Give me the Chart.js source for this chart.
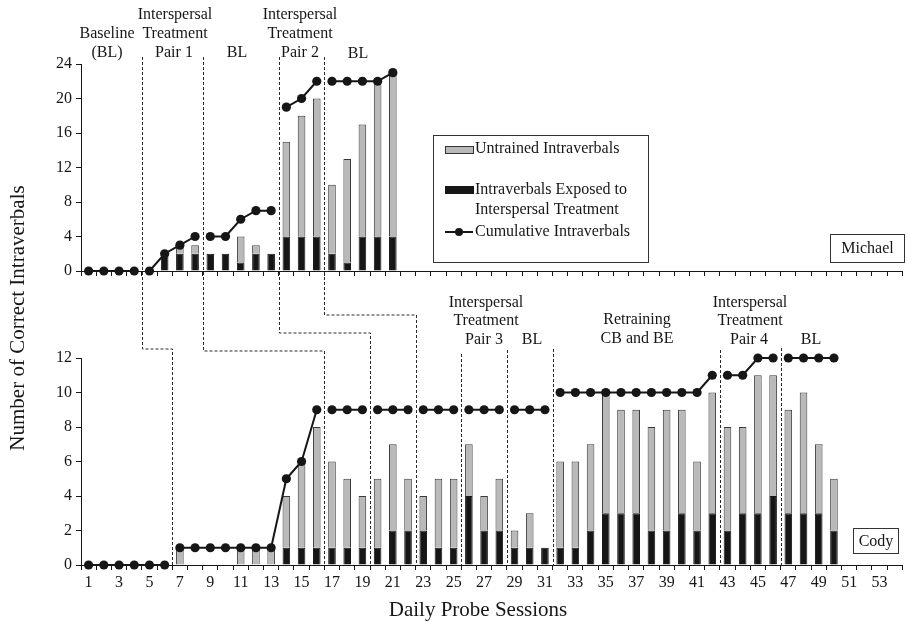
<!DOCTYPE html>
<html>
<head>
<meta charset="utf-8">
<script src="https://cdn.jsdelivr.net/npm/chart.js@4.4.1/dist/chart.umd.min.js"></script>
<style>
  html, body { margin: 0; padding: 0; background: #fff; }
  #wrap { position: relative; width: 907px; height: 627px; }
  #wrap canvas { position: absolute; left: 0; top: 0; }
</style>
</head>
<body>
<div id="wrap">
  <canvas id="michaelPanel" width="907" height="627"></canvas>
  <canvas id="codyPanel" width="907" height="627"></canvas>
</div>
<script>
// Daily probe sessions shown on the x axis
const sessions = Array.from({ length: 54 }, (_, i) => String(i + 1));

// Michael (sessions 1-21)
const michaelExposed   = [0,0,0,0,0,2,2,2,2,2,1,2,2,4,4,4,2,1,4,4,4];
const michaelUntrained = [0,0,0,0,0,0,1,1,0,0,3,1,0,11,14,16,8,12,13,18,19];
const michaelCumulative = [0,0,0,0,0,2,3,4,4,4,6,7,7,19,20,22,22,22,22,22,23];
// last session of each phase before a phase-change line
const michaelPhaseEnds = [4, 8, 13, 16];

// Cody (sessions 1-50)
const codyExposed = [0,0,0,0,0,0, 0,0,0,0,0,0,0, 1,1,1, 1,1,1, 1,2,2, 2,1,1, 4,2,2, 1,1,1,
                     1,1,2,3,3,3,2,2,3,2,3, 2,3,3,4, 3,3,3,2];
const codyUntrained = [0,0,0,0,0,0, 1,0,0,0,1,1,1, 3,5,7, 5,4,3, 4,5,3, 2,4,4, 3,2,3, 1,2,0,
                       5,5,5,7,6,6,6,7,6,4,7, 6,5,8,7, 6,7,4,3];
const codyCumulative = [0,0,0,0,0,0, 1,1,1,1,1,1,1, 5,6,9, 9,9,9, 9,9,9, 9,9,9, 9,9,9, 9,9,9,
                        10,10,10,10,10,10,10,10,10,10,11, 11,11,12,12, 12,12,12,12];
const codyPhaseEnds = [6, 16, 19, 22, 25, 28, 31, 42, 46];

// y-axis tick steps
const michaelTicks = { max: 24, step: 4 };
const codyTicks = { max: 12, step: 2 };

const SERIF = "'Liberation Serif', 'Times New Roman', serif";
const INK = '#161616';
const GRAY = '#b9b9b9';

Chart.defaults.font.family = SERIF;
Chart.defaults.color = INK;

// one line dataset per phase so the series breaks at every phase change
function phaseLines(values, ends) {
  const bounds = [0, ...ends, values.length];
  const out = [];
  for (let p = 0; p < bounds.length - 1; p++) {
    const data = sessions.map((_, i) => (i >= bounds[p] && i < bounds[p + 1] && i < values.length) ? values[i] : null);
    out.push({
      type: 'line', data, stack: 'cum' + p, order: 0,
      borderColor: INK, borderWidth: 2, pointRadius: 4.6, pointHoverRadius: 4.6,
      pointBackgroundColor: INK, pointBorderWidth: 0, spanGaps: false, clip: false,
      tension: 0
    });
  }
  return out;
}

function bars(values, color, border) {
  return {
    type: 'bar', order: 1, stack: 'bars',
    data: sessions.map((_, i) => (values[i] ? values[i] : null)),
    backgroundColor: color, borderColor: border, borderWidth: 1,
    barPercentage: 0.5, categoryPercentage: 1.0
  };
}

function panelOptions(range, showLabels, padTop, padBottom, xHeight, plugin) {
  return {
    responsive: false, animation: false, events: [],
    layout: { padding: { left: 0, right: 2, top: padTop, bottom: padBottom } },
    plugins: { legend: { display: false }, tooltip: { enabled: false } },
    scales: {
      x: {
        stacked: true, offset: true,
        grid: { offset: true, drawOnChartArea: false, drawTicks: true, tickLength: 5, color: INK },
        border: { display: true, color: INK, width: 1 },
        ticks: {
          display: showLabels, autoSkip: false, maxRotation: 0, minRotation: 0, padding: 3,
          font: { size: 16 }, color: INK,
          callback: (v, i) => (i % 2 === 0 ? sessions[i] : '')
        },
        afterFit: (s) => { s.height = xHeight; }
      },
      y: {
        stacked: true, min: 0, max: range.max,
        ticks: { stepSize: range.step, padding: 4, font: { size: 16 }, color: INK },
        grid: { drawOnChartArea: false, drawTicks: true, tickLength: 5, color: INK },
        border: { display: true, color: INK, width: 1 },
        afterFit: (s) => { s.width = 81; }
      }
    }
  };
}

function text(ctx, str, x, y, size, align) {
  ctx.save();
  ctx.font = size + 'px ' + SERIF;
  ctx.fillStyle = INK;
  ctx.textAlign = align || 'center';
  ctx.textBaseline = 'middle';
  ctx.fillText(str, x, y);
  ctx.restore();
}

function nameBox(ctx, str, x, y, w, h) {
  ctx.save();
  ctx.fillStyle = '#fff';
  ctx.fillRect(x, y, w, h);
  ctx.strokeStyle = '#333';
  ctx.lineWidth = 1;
  ctx.strokeRect(x + 0.5, y + 0.5, w, h);
  ctx.restore();
  text(ctx, str, x + w / 2 + 0.5, y + h / 2 + 1, 16);
}

function boundaryX(scale, lastSession) {
  return (scale.getPixelForValue(lastSession - 1) + scale.getPixelForValue(lastSession)) / 2;
}

function dashed(ctx, pts, color) {
  ctx.save();
  ctx.strokeStyle = color || '#2a2a2a';
  ctx.lineWidth = 1;
  ctx.setLineDash([3, 2]);
  ctx.beginPath();
  pts.forEach(([x, y], k) => (k ? ctx.lineTo(Math.round(x) + 0.5, y) : ctx.moveTo(Math.round(x) + 0.5, y)));
  ctx.stroke();
  ctx.restore();
}

const michaelDecor = {
  id: 'michaelDecor',
  afterDraw(chart) {
    const ctx = chart.ctx;
    // phase titles
    [['Baseline', 107, 34], ['(BL)', 107, 53],
     ['Interspersal', 175, 15], ['Treatment', 175, 34], ['Pair 1', 174, 53],
     ['BL', 237, 53],
     ['Interspersal', 300, 15], ['Treatment', 300, 34], ['Pair 2', 300, 53],
     ['BL', 358, 54]].forEach(([s, x, y]) => text(ctx, s, x, y, 16));

    // legend
    ctx.save();
    ctx.fillStyle = '#fff';
    ctx.fillRect(433, 135, 215, 127);
    ctx.strokeStyle = '#333';
    ctx.lineWidth = 1;
    ctx.strokeRect(433.5, 135.5, 215, 127);
    ctx.fillStyle = GRAY;
    ctx.fillRect(445, 146, 28, 7);
    ctx.strokeRect(445.5, 146.5, 28, 7);
    ctx.fillStyle = INK;
    ctx.fillRect(445, 186, 29, 8);
    ctx.strokeStyle = INK;
    ctx.lineWidth = 2;
    ctx.beginPath();
    ctx.moveTo(445, 232); ctx.lineTo(473, 232);
    ctx.stroke();
    ctx.beginPath();
    ctx.arc(459, 232, 4, 0, Math.PI * 2);
    ctx.fill();
    ctx.restore();
    text(ctx, 'Untrained Intraverbals', 475, 149, 16, 'left');
    text(ctx, 'Intraverbals Exposed to', 475, 190, 16, 'left');
    text(ctx, 'Interspersal Treatment', 475, 210, 16, 'left');
    text(ctx, 'Cumulative Intraverbals', 475, 232, 16, 'left');

    nameBox(ctx, 'Michael', 830, 234, 74, 28);
  }
};

const michaelChart = new Chart(document.getElementById('michaelPanel'), {
  data: {
    labels: sessions,
    datasets: [
      bars(michaelExposed, INK, INK),
      bars(michaelUntrained, GRAY, '#3a3a3a'),
      ...phaseLines(michaelCumulative, michaelPhaseEnds)
    ]
  },
  options: panelOptions(michaelTicks, false, 64, 627 - 271 - 10, 10),
  plugins: [michaelDecor]
});

// staggered phase-change lines: Michael boundary -> step level -> Cody boundary
const steps = [
  { michael: 4, cody: 6, level: 349 },
  { michael: 8, cody: 16, level: 351 },
  { michael: 13, cody: 19, level: 333 },
  { michael: 16, cody: 22, level: 315 }
];
const codyOnlyLines = [
  { end: 25, from: 354 }, { end: 28, from: 350 }, { end: 31, from: 349 },
  { end: 42, from: 350 }, { end: 46, from: 348 }
];

const codyDecor = {
  id: 'codyDecor',
  afterDraw(chart) {
    const ctx = chart.ctx;
    const xm = michaelChart.scales.x;
    const xc = chart.scales.x;
    const base = chart.chartArea.bottom;

    steps.forEach((s) => {
      const a = boundaryX(xm, s.michael);
      const b = boundaryX(xc, s.cody);
      dashed(ctx, [[a, 57], [a, s.level], [b, s.level], [b, base]]);
    });
    codyOnlyLines.forEach((l) => {
      const x = boundaryX(xc, l.end);
      dashed(ctx, [[x, l.from], [x, base]]);
    });

    [['Interspersal', 486, 303], ['Treatment', 486, 321], ['Pair 3', 484, 340],
     ['BL', 532, 340],
     ['Retraining', 637, 320], ['CB and BE', 637, 339],
     ['Interspersal', 750, 303], ['Treatment', 750, 321], ['Pair 4', 749, 340],
     ['BL', 811, 340]].forEach(([s, x, y]) => text(ctx, s, x, y, 16));

    nameBox(ctx, 'Cody', 853, 528, 45, 25);

    // axis titles
    text(ctx, 'Daily Probe Sessions', 478, 610, 21);
    ctx.save();
    ctx.translate(18, 318);
    ctx.rotate(-Math.PI / 2);
    text(ctx, 'Number of Correct Intraverbals', 0, 0, 21);
    ctx.restore();
  }
};

new Chart(document.getElementById('codyPanel'), {
  data: {
    labels: sessions,
    datasets: [
      bars(codyExposed, INK, INK),
      bars(codyUntrained, GRAY, '#3a3a3a'),
      ...phaseLines(codyCumulative, codyPhaseEnds)
    ]
  },
  options: panelOptions(codyTicks, true, 358, 627 - 565 - 30, 30),
  plugins: [codyDecor]
});
</script>
</body>
</html>
